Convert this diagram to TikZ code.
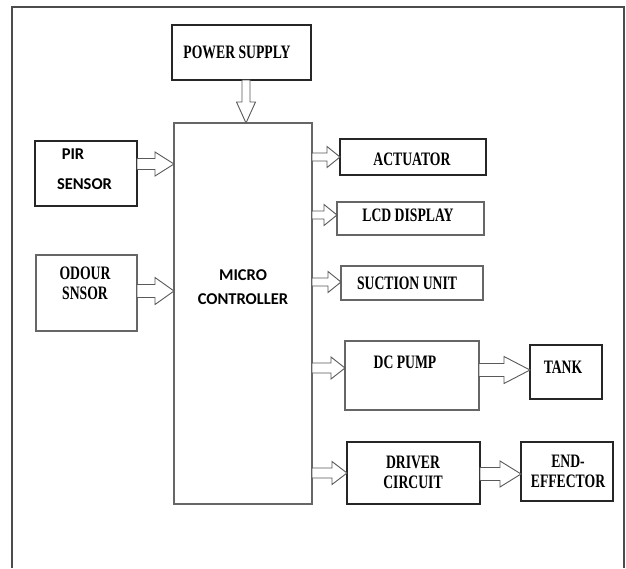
\documentclass[tikz,border=0pt]{standalone}
\usepackage{fontspec}
\usetikzlibrary{calc}
\newfontfamily\serifc[FakeStretch=0.72]{Liberation Serif}
\newfontfamily\sansc{Carlito}
\tikzset{
  box/.style={draw=black!85, line width=1.2pt, fill=white, inner sep=0pt, outer sep=0pt},
  mbox/.style={draw=black!60, line width=1.1pt, fill=white, inner sep=0pt, outer sep=0pt},
  blk/.style={draw=black!65, fill=white, line width=0.9pt, line join=miter},
  stxt/.style={font=\serifc\bfseries\fontsize{19}{20}\selectfont, align=center, inner sep=0pt},
  ctxt/.style={font=\sansc\bfseries\fontsize{16.5}{24}\selectfont, align=center, inner sep=0pt},
  frame/.style={draw=black!70, line width=1.2pt}
}
\newcommand{\harr}[5]{% start, end, shaft half, head half, head length
  \draw[blk] let \p1=(#1), \p2=(#2) in
    (\x1,\y1+#3) -- (\x2-#5,\y1+#3) -- (\x2-#5,\y1+#4) -- (\x2,\y1) --
    (\x2-#5,\y1-#4) -- (\x2-#5,\y1-#3) -- (\x1,\y1-#3) -- cycle;}
\newcommand{\varr}[5]{% start (top), end (bottom)
  \draw[blk] let \p1=(#1), \p2=(#2) in
    (\x1-#3,\y1) -- (\x1-#3,\y2+#5) -- (\x1-#4,\y2+#5) -- (\x1,\y2) --
    (\x1+#4,\y2+#5) -- (\x1+#3,\y2+#5) -- (\x1+#3,\y1) -- cycle;}
\begin{document}
\begin{tikzpicture}[x=1pt,y=-1pt]
\useasboundingbox (0,0) rectangle (626,568);
\fill[white] (0,0) rectangle (626,568);
\draw[frame] (12,568) -- (12,7) -- (624,7) -- (624,568);

% boxes
\node[box, minimum width=139pt, minimum height=55pt] (power) at (241.5,52.5) {};
\node[mbox, minimum width=138pt, minimum height=381pt] (micro) at (243,313.5) {};
\node[box, minimum width=102pt, minimum height=65pt] (pir) at (86,173.5) {};
\node[mbox, minimum width=101pt, minimum height=76pt] (odour) at (86.5,293) {};
\node[box, minimum width=146pt, minimum height=36pt] (act) at (413,157) {};
\node[mbox, minimum width=147pt, minimum height=33pt] (lcd) at (410.5,218.5) {};
\node[mbox, minimum width=142pt, minimum height=34pt] (suct) at (412,283) {};
\node[mbox, minimum width=134pt, minimum height=69pt] (dc) at (412,375.5) {};
\node[box, minimum width=72pt, minimum height=54pt] (tank) at (566,372) {};
\node[box, minimum width=133pt, minimum height=62pt] (drv) at (413.5,473) {};
\node[box, minimum width=92pt, minimum height=59pt] (end) at (567,471.5) {};

% texts
\node[stxt] (tpower) at (237,52) {POWER SUPPLY};
\node[ctxt] (tpir1) at (73,154) {PIR};
\node[ctxt] (tpir2) at (84.5,184) {SENSOR};
\node[stxt] (todour) at (85,283) {ODOUR\\SNSOR};
\node[ctxt] (tmicro) at (243,287) {MICRO\\CONTROLLER};
\node[stxt] (tact) at (412,159) {ACTUATOR};
\node[stxt] (tlcd) at (408,215) {LCD DISPLAY};
\node[stxt] (tsuct) at (407,283) {SUCTION UNIT};
\node[stxt] (tdc) at (405,362) {DC PUMP};
\node[stxt] (ttank) at (563,367) {TANK};
\node[stxt] (tdrv) at (413,472) {DRIVER\\CIRCUIT};
\node[stxt] (tend) at (568,471) {END-\\EFFECTOR};

% arrows
\varr{[xshift=4.5pt]power.south}{[xshift=4.5pt]power.south |- micro.north}{4pt}{9.5pt}{21pt}
\harr{[yshift=9.5pt]pir.east}{[yshift=9.5pt]pir.east -| micro.west}{5.5pt}{12pt}{19pt}
\harr{[yshift=2pt]odour.east}{[yshift=2pt]odour.east -| micro.west}{6.5pt}{13.5pt}{19pt}
\harr{act.west -| micro.east}{act.west}{4pt}{10.5pt}{13pt}
\harr{[yshift=3.5pt]lcd.west -| micro.east}{[yshift=3.5pt]lcd.west}{4pt}{10.5pt}{13pt}
\harr{[yshift=1pt]suct.west -| micro.east}{[yshift=1pt]suct.west}{4pt}{10.5pt}{13pt}
\harr{[yshift=7.5pt]dc.west -| micro.east}{[yshift=7.5pt]dc.west}{5pt}{11pt}{14pt}
\harr{drv.west -| micro.east}{drv.west}{5pt}{11.5pt}{15pt}
\harr{[yshift=2pt]tank.west -| dc.east}{[yshift=2pt]tank.west}{6.5pt}{13.5pt}{26pt}
\harr{[yshift=-2.5pt]end.west -| drv.east}{[yshift=-2.5pt]end.west}{6.5pt}{13pt}{21pt}
\end{tikzpicture}
\end{document}
